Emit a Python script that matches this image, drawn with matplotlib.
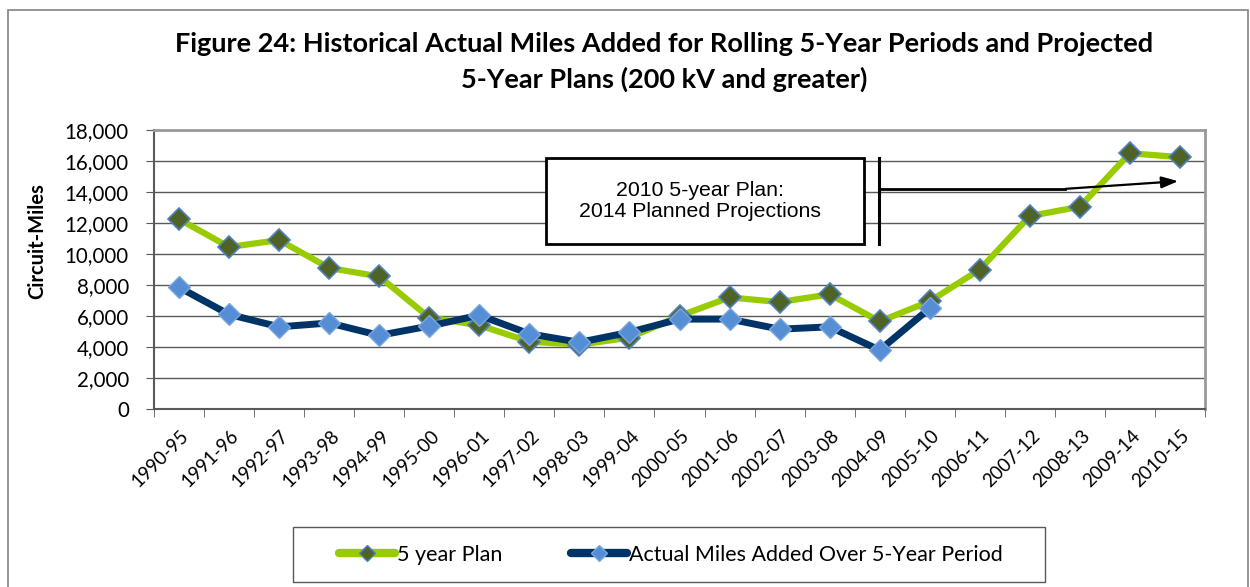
import numpy as np
import matplotlib
matplotlib.use('Agg')
import matplotlib.pyplot as plt
import matplotlib.transforms as mtransforms
from matplotlib.patches import Rectangle
from matplotlib.lines import Line2D
from matplotlib.ticker import FuncFormatter, FixedLocator

periods = ['1990-95', '1991-96', '1992-97', '1993-98', '1994-99', '1995-00',
           '1996-01', '1997-02', '1998-03', '1999-04', '2000-05', '2001-06',
           '2002-07', '2003-08', '2004-09', '2005-10', '2006-11', '2007-12',
           '2008-13', '2009-14', '2010-15']
plan = [12250, 10450, 10900, 9100, 8550, 5900, 5400, 4350, 4150, 4600, 6000,
        7200, 6900, 7400, 5650, 6950, 9000, 12450, 13050, 16500, 16250]
actual = [7850, 6100, 5300, 5550, 4750, 5350, 6050, 4850, 4300, 4950, 5800,
          5800, 5150, 5300, 3800, 6500]

CAL = ['Lato', 'DejaVu Sans']
plt.rcParams['font.family'] = CAL

W, H = 1250, 587
fig = plt.figure(figsize=(W / 100, H / 100), dpi=100)
# outer chart border
fig.patches.append(Rectangle((8 / W, -0.05), 1240 / W, 1.05 - 10 / H, transform=fig.transFigure,
                             fill=False, edgecolor='#8c8c8c', lw=1.3))
ax = fig.add_axes([154 / W, 1 - 409 / H, 1051 / W, 279 / H])

x = np.arange(len(periods))
ax.plot(x, plan, color='#99cc00', lw=4.5, marker='D', ms=11.5,
        mfc='#4f6228', mec='#4f81bd', mew=1.2, zorder=3)
ax.plot(x[:len(actual)], actual, color='#003366', lw=5, marker='D', ms=11.5,
        mfc='#558ed5', mec='#7ba7de', mew=1.0, zorder=4)

ax.set_xlim(-0.5, len(periods) - 0.5)
ax.set_ylim(0, 18000)
ax.set_yticks(np.arange(0, 18001, 2000))
ax.yaxis.set_major_formatter(FuncFormatter(lambda v, p: f'{int(v):,}'))
ax.yaxis.grid(True, color='#595959', lw=1)
ax.set_axisbelow(True)

# category labels (Excel style: ticks between categories, labels rotated 45)
ax.set_xticks(x)
ax.set_xticklabels([])
ax.tick_params(axis='x', which='major', length=0)
lab_tr = ax.get_xaxis_transform() + mtransforms.ScaledTranslation(
    7 / 100, -24 / 100, fig.dpi_scale_trans)
for xi, name in zip(x, periods):
    ax.text(xi, 0, name, transform=lab_tr, rotation=45, ha='right', va='center',
            rotation_mode='anchor', fontsize=13.5)
ax.xaxis.set_minor_locator(FixedLocator(np.arange(-0.5, len(periods), 1)))
ax.tick_params(axis='x', which='minor', length=6, color='#595959')
ax.tick_params(axis='y', labelsize=14.8, length=6, color='#595959', pad=12)
for s in ['top', 'right']:
    ax.spines[s].set_color('#999999')
    ax.spines[s].set_linewidth(2)
for s in ['left', 'bottom']:
    ax.spines[s].set_color('#595959')
    ax.spines[s].set_linewidth(1.5)

fig.text(37 / W, 1 - 241 / H, 'Circuit-Miles', rotation=90, ha='center', va='center',
         fontsize=14.5, fontweight='bold')

fig.text(664 / W, 1 - 62 / H, 'Figure 24: Historical Actual Miles Added for Rolling 5-Year Periods and Projected\n'
         '5-Year Plans (200 kV and greater)', ha='center', va='center', fontsize=19.5,
         fontweight='bold', linespacing=1.5)

# annotation box with bracket and arrow
fig.patches.append(Rectangle((546 / W, 1 - 244 / H), 318 / W, 86 / H,
                             transform=fig.transFigure, fill=True, facecolor='white',
                             edgecolor='black', lw=2, zorder=5))
fig.text(700 / W, 1 - 201 / H, '2010 5-year Plan:\n2014 Planned Projections',
         ha='center', va='center', fontsize=15.3, zorder=6, linespacing=1.15,
         family=['Liberation Sans', 'DejaVu Sans'])
fig.add_artist(Line2D([879 / W, 879 / W], [1 - 158 / H, 1 - 244 / H],
                      transform=fig.transFigure, color='black', lw=2.2))
fig.add_artist(Line2D([879 / W, 1065 / W], [1 - 189 / H, 1 - 189 / H],
                      transform=fig.transFigure, color='black', lw=2))
ax.annotate('', xy=(1181 / W, 1 - 181 / H), xytext=(1063 / W, 1 - 189 / H),
            xycoords='figure fraction', textcoords='figure fraction',
            arrowprops=dict(arrowstyle='-|>,head_length=1.0,head_width=0.35',
                            color='black', lw=1.6), zorder=6)

# legend: frame drawn separately, entries centred inside it
fig.patches.append(Rectangle((293 / W, 1 - 582 / H), 752 / W, 55 / H,
                             transform=fig.transFigure, fill=False,
                             edgecolor='#595959', lw=1))
handles = [Line2D([], [], color='#99cc00', lw=6, solid_capstyle='round', marker='D',
                  ms=8, mfc='#4f6228', mec='#4f81bd', mew=1),
           Line2D([], [], color='#003366', lw=6, solid_capstyle='round', marker='D',
                  ms=8, mfc='#558ed5', mec='#7ba7de', mew=1)]
fig.legend(handles, ['5 year Plan', 'Actual Miles Added Over 5-Year Period'],
           loc='center', bbox_to_anchor=(671 / W, 1 - 555 / H), ncol=2,
           frameon=False, prop={'size': 15.5}, handlelength=2.6,
           handletextpad=0.1, columnspacing=3.2)

fig.savefig('out.png', dpi=100)
